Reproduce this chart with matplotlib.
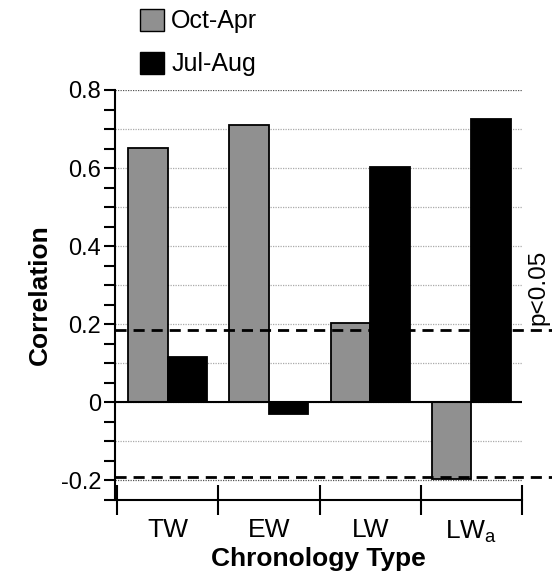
import matplotlib
matplotlib.use("Agg")
import matplotlib.pyplot as plt
import numpy as np
from matplotlib.patches import Patch
import matplotlib.transforms as mtransforms

plt.rcParams['font.family'] = ['Liberation Sans', 'DejaVu Sans']

categories = ["TW", "EW", "LW", "LW$_\\mathregular{a}$"]
oct_apr = [0.651, 0.710, 0.203, -0.195]
jul_aug = [0.115, -0.031, 0.603, 0.726]
sig_levels = [0.185, -0.192]
series_names = ["Oct-Apr", "Jul-Aug"]

W, H = 552, 573
fig = plt.figure(figsize=(W / 100, H / 100), dpi=100)
ax = fig.add_axes([115 / W, 1 - 500 / H, (522 - 115) / W, (500 - 90) / H])

x = np.arange(len(categories))
bw = 0.39
ax.bar(x - bw / 2, oct_apr, width=bw, color="#909090", edgecolor="black", linewidth=1.3, zorder=3)
ax.bar(x + bw / 2, jul_aug, width=bw, color="black", edgecolor="black", linewidth=1.3, zorder=3)

ax.set_xlim(-0.52, 3.5)
ax.set_ylim(-0.25, 0.8)

# dotted gridlines every 0.1
for g in np.arange(-0.2, 0.81, 0.1):
    col = "#555555" if abs(g - 0.8) < 1e-6 or abs(g + 0.2) < 1e-6 else "#aaaaaa"
    ax.axhline(g, color=col, linestyle=(0, (1, 1)), linewidth=0.9, zorder=1)

ax.axhline(0, color="black", linewidth=1.5, zorder=4)

# significance dashed lines extend past axes
trans = mtransforms.blended_transform_factory(ax.transAxes, ax.transData)
for s in sig_levels:
    ax.plot([0, (552 - 115) / (522 - 115)], [s, s], transform=trans, color="black",
            linestyle=(0, (4, 2.5)), linewidth=2.0, clip_on=False, zorder=5)
ax.text(1.04, sig_levels[0] + 0.012, "p<0.05", transform=trans, rotation=90,
        ha="center", va="bottom", fontsize=17.5)

# spines
for sp in ["top", "right"]:
    ax.spines[sp].set_visible(False)
ax.spines["left"].set_linewidth(1.5)
ax.spines["bottom"].set_linewidth(1.5)
ax.spines["bottom"].set_bounds(-0.5, 3.5)
ax.spines["left"].set_bounds(-0.25, 0.8)

ax.set_yticks([-0.2, 0, 0.2, 0.4, 0.6, 0.8])
ax.set_yticklabels(["-0.2", "0", "0.2", "0.4", "0.6", "0.8"], fontsize=17)
ax.set_yticks(np.arange(-0.25, 0.801, 0.05), minor=True)
ax.tick_params(axis="y", which="both", direction="out", length=8, width=1.5, pad=2)

ax.set_xticks(np.arange(-0.5, 3.51, 1.0))
ax.set_xticklabels([])
ax.set_xticks(x, minor=True)
ax.set_xticklabels(categories, minor=True, fontsize=19)
ax.tick_params(axis="x", which="major", direction="inout", length=22, width=1.5)
ax.tick_params(axis="x", which="minor", length=0, pad=13)

ax.set_ylabel("Correlation", fontsize=19, fontweight="bold", labelpad=6)
ax.set_xlabel("Chronology Type", fontsize=19, fontweight="bold", labelpad=2)

handles = [Patch(facecolor="#909090", edgecolor="black", linewidth=1.0),
           Patch(facecolor="black", edgecolor="black", linewidth=1.0)]
fig.legend(handles, series_names, loc="upper left", bbox_to_anchor=(140 / W, 1 - 9 / H),
           frameon=False, fontsize=18, handlelength=0.95, handleheight=0.95,
           handletextpad=0.3, labelspacing=0.75, borderpad=0, borderaxespad=0)

fig.savefig("out.png", dpi=100)
